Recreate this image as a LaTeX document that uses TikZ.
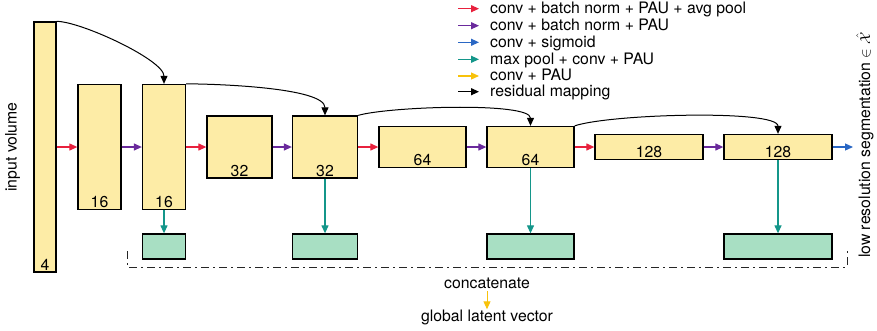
\documentclass[tikz,border=0pt]{standalone}
\usepackage{fontspec}
\setmainfont{TeX Gyre Heros}
\usetikzlibrary{arrows.meta}
\definecolor{cred}{HTML}{E8213D}
\definecolor{cpurple}{HTML}{6A2A9C}
\definecolor{cblue}{HTML}{2A67C4}
\definecolor{cteal}{HTML}{14968A}
\definecolor{cyellow}{HTML}{F8C20A}
\definecolor{yfill}{HTML}{FDECA6}
\definecolor{gfill}{HTML}{A8DFC3}
\begin{document}
\begin{tikzpicture}[x=1pt,y=-1pt,
  every node/.style={font=\fontsize{15.8}{18}\selectfont},
  ybox/.style={draw=black, fill=yfill, line width=1.3pt, inner sep=0pt},
  gbox/.style={draw=black, fill=gfill, line width=1.3pt, inner sep=0pt, minimum height=25pt},
  num/.style={anchor=base, inner sep=0pt},
  leg/.style={anchor=base west, inner sep=0pt},
  flow/.style={-{Triangle[length=8pt,width=7pt]}, line width=1.2pt},
  res/.style={-{Triangle[length=8pt,width=7pt]}, line width=1pt, black},
  concat/.style={line width=1pt, black!85, dash pattern=on 8pt off 4pt on 2pt off 4pt}
]
\useasboundingbox (0,0) rectangle (877,330);

% yellow blocks
\node[ybox, minimum width=22pt, minimum height=250pt] (A) at (45,147) {};
\node[ybox, minimum width=43pt, minimum height=125pt] (B) at (99.5,147) {};
\node[ybox, minimum width=43pt, minimum height=125pt] (C) at (164,147) {};
\node[ybox, minimum width=65pt, minimum height=62pt] (D) at (239.5,147) {};
\node[ybox, minimum width=65pt, minimum height=62pt] (E) at (325,147) {};
\node[ybox, minimum width=87pt, minimum height=41pt] (F) at (422.5,147) {};
\node[ybox, minimum width=87pt, minimum height=41pt] (G) at (530.5,147) {};
\node[ybox, minimum width=108pt, minimum height=25pt] (H) at (649,147) {};
\node[ybox, minimum width=108pt, minimum height=25pt] (I) at (778,147) {};

% channel numbers
\node[num] (lA) at ([yshift=2.5pt]A.south) {4};
\node[num] (lB) at ([yshift=2.5pt]B.south) {16};
\node[num] (lC) at ([yshift=2.5pt]C.south) {16};
\node[num] (lD) at ([yshift=2.5pt]D.south) {32};
\node[num] (lE) at ([yshift=2.5pt]E.south) {32};
\node[num] (lF) at ([yshift=2.5pt]F.south) {64};
\node[num] (lG) at ([yshift=2.5pt]G.south) {64};
\node[num] (lH) at ([yshift=2.5pt]H.south) {128};
\node[num] (lI) at ([yshift=2.5pt]I.south) {128};

% green blocks
\node[gbox, minimum width=43pt] (gC) at (164,246.5) {};
\node[gbox, minimum width=65pt] (gE) at (325,246.5) {};
\node[gbox, minimum width=87pt] (gG) at (530.5,246.5) {};
\node[gbox, minimum width=108pt] (gI) at (778,246.5) {};

% main flow
\draw[flow, cred] (A.east) -- (B.west);
\draw[flow, cpurple] (B.east) -- (C.west);
\draw[flow, cred] (C.east) -- (D.west);
\draw[flow, cpurple] (D.east) -- (E.west);
\draw[flow, cred] (E.east) -- (F.west);
\draw[flow, cpurple] (F.east) -- (G.west);
\draw[flow, cred] (G.east) -- (H.west);
\draw[flow, cpurple] (H.east) -- (I.west);
\coordinate (out) at (853,147);
\draw[flow, cblue] (I.east) -- (out);

% down to green
\draw[flow, cteal] (C.south) -- (gC.north);
\draw[flow, cteal] (E.south) -- (gE.north);
\draw[flow, cteal] (G.south) -- (gG.north);
\draw[flow, cteal] (I.south) -- (gI.north);

% residual mappings
\draw[res] (A.north east) .. controls +(24,0) and +(0,-24) .. (C.north);
\draw[res] (C.north east) .. controls +(28,0) and +(0,-28) .. (E.north);
\draw[res] (E.north east) .. controls +(32,-9) and +(0,-24) .. (G.north);
\draw[res] (G.north east) .. controls +(36,-12) and +(0,-24.5) .. (I.north);

% concatenate bracket
\coordinate (d1) at (127,251);
\coordinate (d2) at (127,267);
\coordinate (d3) at (847,267);
\coordinate (d4) at (847,251);
\draw[concat] (d1) -- (d2) -- (d3) -- (d4);

\node[num] (cat) at (487,288) {concatenate};
\node[num] (glv) at (487,321) {global latent vector};
\draw[flow, cyellow, line width=1pt, shorten <=3pt] (cat.south) -- (glv.north);

% side labels
\node[rotate=90, inner sep=0pt] (inv) at (12.5,147) {input volume};
\node[rotate=90, inner sep=0pt] (lrs) at (865,145) {low resolution segmentation $\in\hat{\mathcal{X}}$};

% legend
\coordinate (s1) at (458,8.7);  \coordinate (e1) at (479,8.7);
\coordinate (s2) at (458,25.7); \coordinate (e2) at (479,25.7);
\coordinate (s3) at (458,42.3); \coordinate (e3) at (479,42.3);
\coordinate (s4) at (458,59.3); \coordinate (e4) at (479,59.3);
\coordinate (s5) at (458,76);   \coordinate (e5) at (479,76);
\coordinate (s6) at (458,91.7); \coordinate (e6) at (479,91.7);
\draw[flow, cred] (s1) -- (e1);
\draw[flow, cpurple] (s2) -- (e2);
\draw[flow, cblue] (s3) -- (e3);
\draw[flow, cteal] (s4) -- (e4);
\draw[flow, cyellow] (s5) -- (e5);
\draw[flow, black] (s6) -- (e6);
\node[leg] (t1) at (490,13.4) {conv + batch norm + PAU + avg pool};
\node[leg] (t2) at (490,30.4) {conv + batch norm + PAU};
\node[leg] (t3) at (490,47.0) {conv + sigmoid};
\node[leg] (t4) at (490,64.0) {max pool + conv + PAU};
\node[leg] (t5) at (490,80.7) {conv + PAU};
\node[leg] (t6) at (490,96.4) {residual mapping};
\end{tikzpicture}
\end{document}
